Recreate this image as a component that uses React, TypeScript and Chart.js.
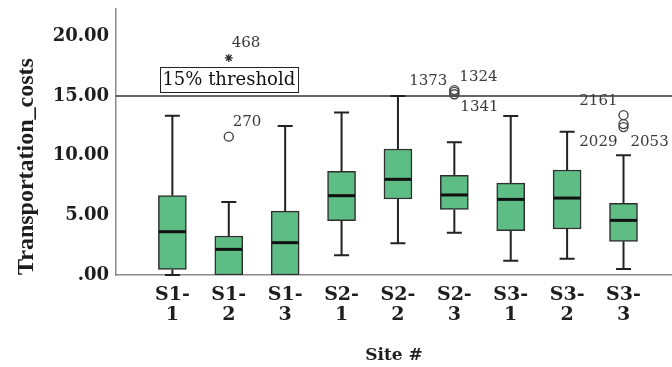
import React, { useEffect, useRef } from 'react';
import { Chart, registerables } from 'chart.js';

Chart.register(...registerables);

// ---- data ----
const sites = ['S1-1', 'S1-2', 'S1-3', 'S2-1', 'S2-2', 'S2-3', 'S3-1', 'S3-2', 'S3-3'];
const whiskerLow = [0, 0, 0, 1.65, 2.66, 3.55, 1.2, 1.37, 0.5];
const quartile1 = [0.47, 0, 0, 4.55, 6.37, 5.5, 3.71, 3.86, 2.82];
const medians = [3.63, 2.15, 2.71, 6.65, 8.02, 6.71, 6.34, 6.45, 4.58];
const quartile3 = [6.65, 3.27, 5.36, 8.69, 10.56, 8.36, 7.7, 8.8, 6.01];
const whiskerHigh = [13.35, 6.12, 12.49, 13.63, 15.0, 11.12, 13.33, 12.01, 10.03];

// outliers (circles): site number (1-based), value, case id
const outlierSite = [2, 6, 6, 6, 9, 9, 9];
const outlierValue = [11.6, 15.5, 15.35, 15.15, 13.4, 12.65, 12.4];
const outlierId = ['270', '1324', '1373', '1341', '2161', '2029', '2053'];
// extreme values (stars)
const extremeSite = [2];
const extremeValue = [18.2];
const extremeId = ['468'];

const yTicks = [0, 5, 10, 15, 20];
const thresholdValue = 15;
const thresholdLabel = '15% threshold';
const xTitle = 'Site #';
const yTitle = 'Transportation_costs';

// ---- label placement (styling) ----
const outlierLabelPlacement: Record<string, { align: CanvasTextAlign; dx: number; dy: number }> = {
  '270': { align: 'left', dx: 4, dy: -15 },
  '1324': { align: 'left', dx: 5, dy: -13 },
  '1373': { align: 'right', dx: -7, dy: -11 },
  '1341': { align: 'left', dx: 6, dy: 13 },
  '2161': { align: 'right', dx: -6, dy: -14 },
  '2029': { align: 'right', dx: -6, dy: 18 },
  '2053': { align: 'left', dx: 7, dy: 15 },
  '468': { align: 'left', dx: 3, dy: -15 },
};
const thresholdBoxAnchor = { site: 2, value: 16.4, width: 138, height: 25 };

const SERIF = '"DejaVu Serif", serif';

const boxPlugin = {
  id: 'boxParts',
  beforeDatasetsDraw(chart: any) {
    const { ctx, scales, chartArea } = chart;
    const xs = scales.x;
    const ys = scales.y;
    ctx.save();
    // threshold line
    const ty = ys.getPixelForValue(thresholdValue);
    ctx.strokeStyle = '#333';
    ctx.lineWidth = 1.5;
    ctx.beginPath();
    ctx.moveTo(chartArea.left, ty);
    ctx.lineTo(chartArea.right, ty);
    ctx.stroke();
    // whiskers
    ctx.strokeStyle = '#222';
    ctx.lineWidth = 2;
    const capHalf = 7.5;
    sites.forEach((_, i) => {
      const x = xs.getPixelForValue(i + 1);
      const yMax = ys.getPixelForValue(whiskerHigh[i]);
      const yQ3 = ys.getPixelForValue(quartile3[i]);
      const yQ1 = ys.getPixelForValue(quartile1[i]);
      const yMin = ys.getPixelForValue(whiskerLow[i]);
      ctx.beginPath();
      ctx.moveTo(x, yQ3);
      ctx.lineTo(x, yMax);
      ctx.moveTo(x - capHalf, yMax);
      ctx.lineTo(x + capHalf, yMax);
      if (whiskerLow[i] < quartile1[i]) {
        ctx.moveTo(x, yQ1);
        ctx.lineTo(x, yMin);
        ctx.moveTo(x - capHalf, yMin);
        ctx.lineTo(x + capHalf, yMin);
      }
      ctx.stroke();
    });
    ctx.restore();
  },
  afterDatasetsDraw(chart: any) {
    const { ctx, scales } = chart;
    const xs = scales.x;
    const ys = scales.y;
    ctx.save();
    // medians
    ctx.strokeStyle = '#111';
    ctx.lineWidth = 3;
    sites.forEach((_, i) => {
      const x = xs.getPixelForValue(i + 1);
      const y = ys.getPixelForValue(medians[i]);
      ctx.beginPath();
      ctx.moveTo(x - 13.5, y);
      ctx.lineTo(x + 13.5, y);
      ctx.stroke();
    });
    // outlier labels
    ctx.font = `normal 15px ${SERIF}`;
    ctx.fillStyle = '#3a3a3a';
    ctx.textBaseline = 'middle';
    const drawLabel = (site: number, value: number, id: string) => {
      const p = outlierLabelPlacement[id] || { align: 'left', dx: 4, dy: -14 };
      ctx.textAlign = p.align;
      ctx.fillText(id, xs.getPixelForValue(site) + p.dx, ys.getPixelForValue(value) + p.dy);
    };
    outlierId.forEach((id, i) => drawLabel(outlierSite[i], outlierValue[i], id));
    extremeId.forEach((id, i) => drawLabel(extremeSite[i], extremeValue[i], id));
    // threshold label box
    const bx = xs.getPixelForValue(thresholdBoxAnchor.site);
    const by = ys.getPixelForValue(thresholdBoxAnchor.value);
    const w = thresholdBoxAnchor.width;
    const h = thresholdBoxAnchor.height;
    ctx.fillStyle = '#fff';
    ctx.fillRect(bx - w / 2, by - h / 2, w, h);
    ctx.strokeStyle = '#222';
    ctx.lineWidth = 1;
    ctx.strokeRect(Math.round(bx - w / 2) + 0.5, Math.round(by - h / 2) + 0.5, w, h);
    ctx.font = `normal 18px ${SERIF}`;
    ctx.fillStyle = '#111';
    ctx.textAlign = 'center';
    ctx.fillText(thresholdLabel, bx, by + 1);
    ctx.restore();
  },
};

export default function App() {
  const canvasRef = useRef<HTMLCanvasElement | null>(null);

  useEffect(() => {
    document.body.style.margin = '0';
    const canvas = canvasRef.current;
    if (!canvas) return;
    const chart = new Chart(canvas, {
      type: 'bar',
      data: {
        datasets: [
          {
            type: 'bar',
            data: sites.map((_, i) => ({ x: i + 1, y: [quartile1[i], quartile3[i]] })) as any,
            backgroundColor: '#5dbd84',
            borderColor: '#2e2e2e',
            borderWidth: 1.5,
            borderSkipped: false,
            barThickness: 28,
          },
          {
            type: 'scatter',
            data: outlierSite.map((s, i) => ({ x: s, y: outlierValue[i] })),
            pointStyle: 'circle',
            pointRadius: 4.5,
            borderColor: '#444',
            borderWidth: 1.4,
            backgroundColor: 'rgba(255,255,255,0)',
          },
          {
            type: 'scatter',
            data: extremeSite.map((s, i) => ({ x: s, y: extremeValue[i] })),
            pointStyle: 'star',
            pointRadius: 4,
            borderColor: '#333',
            borderWidth: 1.3,
            backgroundColor: '#333',
          },
        ] as any,
      },
      options: {
        animation: false,
        responsive: false,
        layout: { autoPadding: false, padding: { top: 9, left: 0, right: 0, bottom: 0 } },
        plugins: {
          legend: { display: false },
          tooltip: { enabled: false },
        },
        scales: {
          x: {
            type: 'linear',
            min: 0,
            max: 9.86,
            offset: false,
            afterBuildTicks: (s: any) => {
              s.ticks = sites.map((_, i) => ({ value: i + 1 }));
            },
            afterFit: (s: any) => {
              s.height = 92;
              s.paddingLeft = 0;
              s.paddingRight = 0;
            },
            grid: { display: false, drawTicks: false },
            border: { display: true, color: '#8a8a8a', width: 1.5 },
            ticks: {
              autoSkip: false,
              maxRotation: 0,
              minRotation: 0,
              padding: 10,
              color: '#1e1e1e',
              font: { family: SERIF, weight: 'bold', size: 19, lineHeight: 1.05 },
              callback: (v: any) => {
                const s = sites[Math.round(v) - 1];
                if (!s) return '';
                const [a, b] = s.split('-');
                return [a + '-', b];
              },
            },
            title: {
              display: true,
              text: xTitle,
              color: '#1e1e1e',
              font: { family: SERIF, weight: 'bold', size: 17 },
              padding: { top: 0, bottom: 1 },
            },
          },
          y: {
            type: 'linear',
            min: 0,
            max: 22.3,
            afterBuildTicks: (s: any) => {
              s.ticks = yTicks.map((v) => ({ value: v }));
            },
            afterFit: (s: any) => {
              s.width = 116;
              s.paddingTop = 0;
              s.paddingBottom = 0;
            },
            grid: { display: false, drawTicks: false },
            border: { display: true, color: '#8a8a8a', width: 1.5 },
            ticks: {
              padding: 7,
              color: '#1e1e1e',
              font: { family: SERIF, weight: 'bold', size: 18 },
              callback: (v: any) => (Number(v) === 0 ? '.00' : Number(v).toFixed(2)),
            },
            title: {
              display: true,
              text: yTitle,
              align: 'start',
              color: '#1e1e1e',
              font: { family: '"Liberation Serif", serif', weight: 'bold', size: 24 },
              padding: { top: 12, bottom: 0 },
            },
          },
        },
      } as any,
      plugins: [boxPlugin],
    });
    return () => chart.destroy();
  }, []);

  return (
    <div style={{ width: 672, height: 367, position: 'relative' }}>
      <canvas ref={canvasRef} width={672} height={367} style={{ display: 'block' }} />
    </div>
  );
}
